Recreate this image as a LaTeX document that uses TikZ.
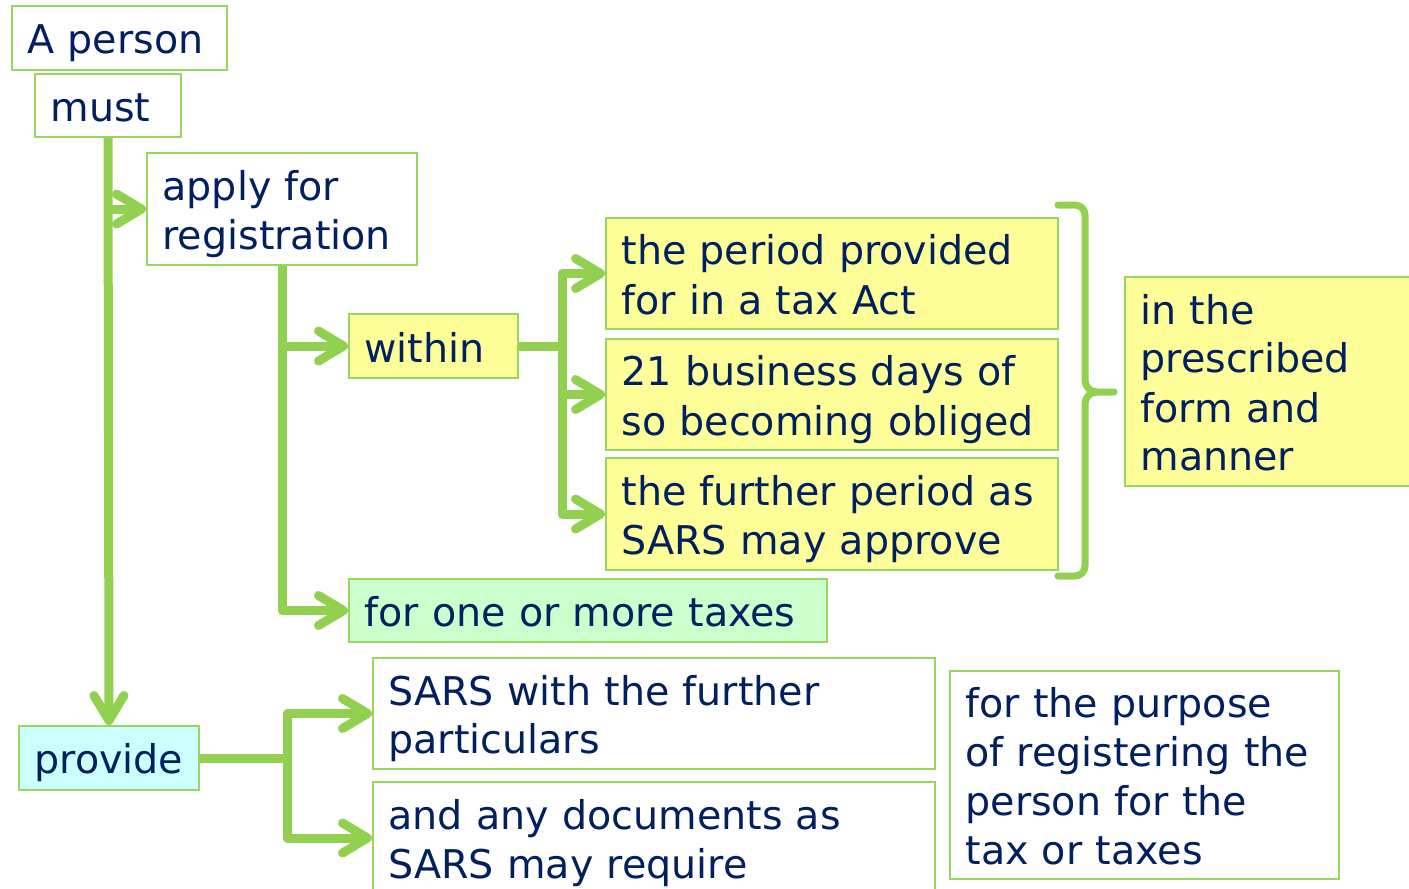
\documentclass[tikz,border=0pt]{standalone}
\usepackage{fontspec}
\setmainfont{DejaVu Sans}
\usetikzlibrary{arrows.meta}
\definecolor{navy}{RGB}{0,32,96}
\definecolor{lgreen}{RGB}{146,208,80}
\definecolor{bordergreen}{RGB}{153,214,95}
\definecolor{yel}{RGB}{255,255,153}
\definecolor{mint}{RGB}{204,255,204}
\definecolor{aqua}{RGB}{204,255,255}
\newcommand\sline{\rule[-8pt]{0pt}{48pt}}
\newcommand\mytl[1]{\sline\mbox{#1}}
\begin{document}
\begin{tikzpicture}[x=1pt,y=-1pt,
  box/.style={draw=bordergreen, line width=2pt, anchor=north west, inner xsep=15.5pt, inner ysep=0pt,
    align=left, text=navy, font=\fontsize{39.6}{48}\selectfont},
  conn/.style={draw=lgreen, line width=9pt, line join=round},
  arr/.style={conn, -{Straight Barb[length=25pt,width=30pt,round]}},
  bracketline/.style={draw=lgreen, line width=7pt, line join=round, line cap=round}]
\clip (0,0) rectangle (1409,889);
\fill[white] (0,0) rectangle (1409,889);

\node[box, fill=white, minimum width=215pt, minimum height=64pt, text width=184pt] (person) at (11,5) {\mytl{A person}};
\node[box, fill=white, minimum width=146pt, minimum height=63pt, text width=115pt] (must) at (34,73) {\mytl{must}};
\node[box, fill=white, minimum width=270pt, minimum height=112pt, text width=239pt] (apply) at (146,152) {\mytl{apply for}\\\mytl{registration}};
\node[box, fill=yel, minimum width=169pt, minimum height=64pt, text width=138pt] (within) at (348,313) {\mytl{within}};
\node[box, fill=yel, minimum width=452pt, minimum height=111pt, text width=421pt] (period) at (605,217) {\mytl{the period provided}\\\mytl{for in a tax Act}};
\node[box, fill=yel, minimum width=452pt, minimum height=111pt, text width=421pt] (business) at (605,338) {\mytl{21 business days of}\\\mytl{so becoming obliged}};
\node[box, fill=yel, minimum width=452pt, minimum height=112pt, text width=421pt] (further) at (605,457) {\mytl{the further period as}\\\mytl{SARS may approve}};
\node[box, fill=yel, minimum width=300pt, minimum height=209pt, text width=269pt] (prescribed) at (1124,276) {\mytl{in the}\\\mytl{prescribed}\\\mytl{form and}\\\mytl{manner}};
\node[box, fill=mint, minimum width=478pt, minimum height=63pt, text width=447pt] (taxes) at (348,578) {\mytl{for one or more taxes}};
\node[box, fill=aqua, minimum width=180pt, minimum height=64pt, text width=149pt] (provide) at (18,725) {\mytl{provide}};
\node[box, fill=white, minimum width=562pt, minimum height=111pt, text width=531pt] (sars) at (372,657) {\mytl{SARS with the further}\\\mytl{particulars}};
\node[box, fill=white, minimum width=562pt, minimum height=112pt, text width=531pt] (docs) at (372,781) {\mytl{and any documents as}\\\mytl{SARS may require}};
\node[box, fill=white, minimum width=389pt, minimum height=208pt, text width=358pt] (purpose) at (949,670) {\mytl{for the purpose}\\\mytl{of registering the}\\\mytl{person for the}\\\mytl{tax or taxes}};

\draw[arr] (must.south) -- (provide.north);
\draw[arr] (must.south |- apply.west) -- (apply.west);
\draw[arr] (apply.south) |- (taxes.west);
\draw[arr] (apply.south |- within.west) -- (within.west);
\coordinate (j1) at ([xshift=43pt]within.east);
\draw[conn] (within.east) -- (j1);
\draw[arr] (j1) |- (period.west);
\draw[arr] (j1) |- (business.west);
\draw[arr] (j1) |- (further.west);
\coordinate (j2) at ([xshift=87pt]provide.east);
\draw[conn] (provide.east) -- (j2);
\draw[arr] (j2) |- (sars.west);
\draw[arr] (j2) |- (docs.west);

\draw[bracketline] (1058,205) -- (1075,205) to[out=0,in=90] (1085,215) -- (1085,380)
  to[out=-90,in=180] (1097,392) -- (1114,392);
\draw[bracketline] (1097,392) to[out=180,in=90] (1085,404) -- (1085,566)
  to[out=-90,in=0] (1075,576) -- (1058,576);
\end{tikzpicture}
\end{document}
